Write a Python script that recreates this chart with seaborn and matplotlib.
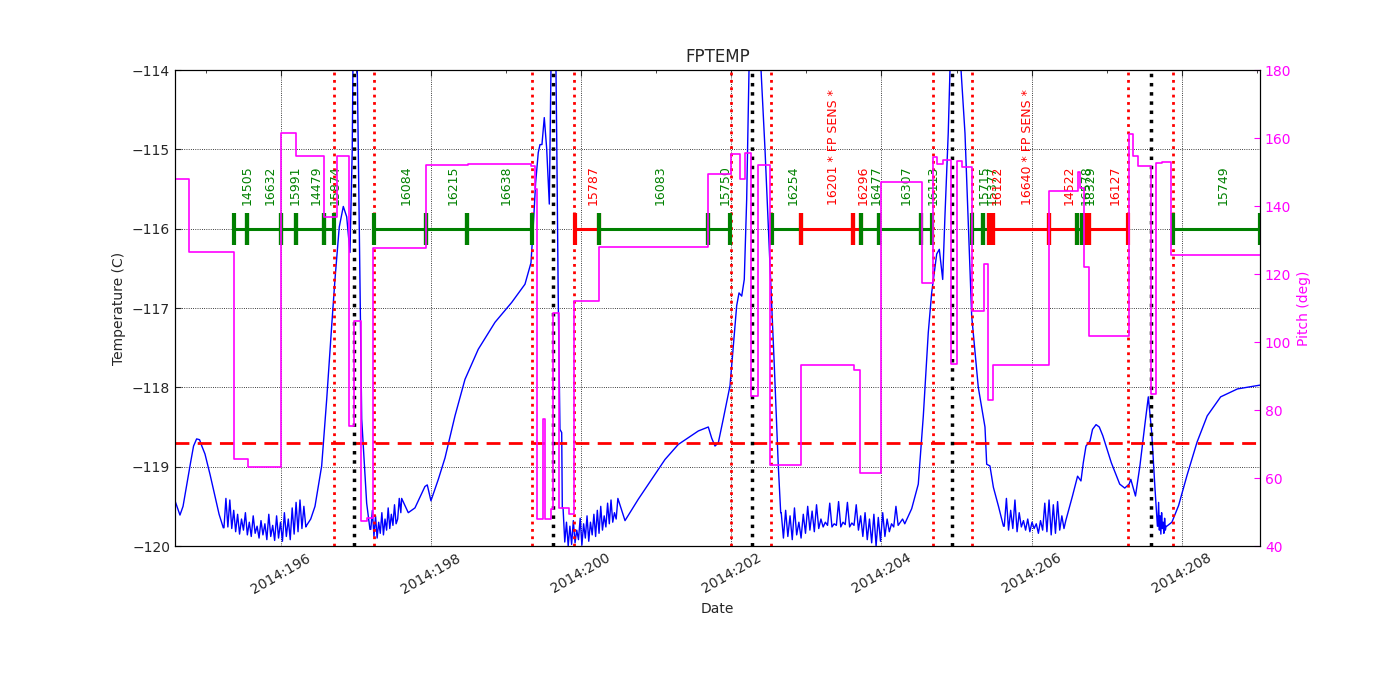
import matplotlib
matplotlib.use("Agg")
import matplotlib.pyplot as plt
import numpy as np
import pandas as pd
import seaborn as sns
from matplotlib.ticker import MultipleLocator, FixedLocator, FixedFormatter

# temperature: smooth stretches (day of year, deg C)
temp_days = [194.593, 194.659, 194.700, 194.740, 194.770, 194.800, 194.840, 194.881,
             194.920, 194.950, 194.992, 195.060, 195.125, 195.180, 195.236,
             196.346, 196.400, 196.457, 196.546, 196.613, 196.679, 196.723, 196.780, 196.834,
             196.879, 196.923, 196.953, 196.989, 197.020, 197.079, 197.145, 197.189,
             197.611, 197.699, 197.788, 197.921, 197.952, 198.001, 198.099, 198.188,
             198.321, 198.454, 198.631, 198.854, 199.076, 199.253, 199.333, 199.364,
             199.395, 199.430, 199.453, 199.479, 199.510, 199.542, 199.577, 199.599,
             199.632, 199.666, 199.675, 199.696, 199.719, 199.742, 199.750,
             200.585, 200.762, 200.940, 201.117, 201.294, 201.561, 201.694, 201.739,
             201.783, 201.827, 201.893, 201.983, 202.027, 202.072, 202.103, 202.139,
             202.173, 202.205, 202.236, 202.316, 202.396, 202.449, 202.515, 202.573,
             202.626, 202.658,
             204.402, 204.490, 204.557, 204.623, 204.668, 204.735, 204.770, 204.815,
             204.845, 204.889, 204.912, 204.985, 205.059, 205.112, 205.201, 205.289,
             205.378, 205.401, 205.444, 205.490, 205.558, 205.624,
             206.454, 206.543, 206.611, 206.656, 206.687, 206.723, 206.776, 206.810,
             206.857, 206.900, 206.947, 207.060, 207.172, 207.239, 207.297, 207.320,
             207.382, 207.441, 207.507, 207.553, 207.598, 207.642, 207.674,
             207.799, 207.867, 207.956, 208.068, 208.202, 208.337, 208.516, 208.740,
             209.053]
temp_vals = [-119.43, -119.61, -119.50, -119.28, -119.12, -118.95, -118.74, -118.65,
             -118.66, -118.74, -118.84, -119.10, -119.37, -119.60, -119.77,
             -119.74, -119.66, -119.50, -118.99, -118.15, -117.23, -116.64, -115.98, -115.72,
             -115.85, -116.30, -115.00, -111.00, -114.00, -118.40, -119.46, -119.79,
             -119.40, -119.58, -119.52, -119.25, -119.23, -119.43, -119.16, -118.89,
             -118.36, -117.90, -117.52, -117.18, -116.93, -116.70, -116.43, -115.96,
             -115.42, -115.04, -114.94, -114.94, -114.60, -114.99, -115.69, -114.00,
             -111.00, -114.00, -114.80, -116.89, -118.53, -118.57, -119.52,
             -119.68, -119.41, -119.16, -118.91, -118.72, -118.55, -118.50, -118.64,
             -118.74, -118.70, -118.40, -117.98, -117.48, -116.97, -116.81, -116.85,
             -116.64, -115.63, -114.00, -110.50, -114.00, -115.00, -116.47, -117.73,
             -118.99, -119.58,
             -119.53, -119.22, -118.36, -117.31, -116.81, -116.32, -116.26, -116.64,
             -115.84, -114.79, -114.00, -111.00, -114.00, -114.80, -117.10, -118.00,
             -118.50, -118.97, -118.99, -119.26, -119.50, -119.75,
             -119.68, -119.37, -119.12, -119.18, -118.95, -118.74, -118.68, -118.53,
             -118.47, -118.50, -118.61, -118.95, -119.22, -119.27, -119.22, -119.16,
             -119.37, -118.99, -118.47, -118.12, -118.57, -119.28, -119.75,
             -119.75, -119.70, -119.49, -119.11, -118.69, -118.36, -118.12, -118.02,
             -117.97]

# temperature: noisy stretches (span in days)
noise_a_span = (195.245, 196.335)
noise_a = [-119.77, -119.40, -119.76, -119.42, -119.78, -119.55, -119.82, -119.60, -119.85,
           -119.66, -119.80, -119.58, -119.86, -119.70, -119.88, -119.62, -119.84, -119.75,
           -119.90, -119.68, -119.86, -119.72, -119.92, -119.60, -119.88, -119.74, -119.93,
           -119.62, -119.90, -119.70, -119.94, -119.58, -119.88, -119.66, -119.92, -119.52,
           -119.85, -119.45, -119.82, -119.42, -119.78, -119.50, -119.76]
noise_b_span = (197.20, 197.60)
noise_b = [-119.79, -119.55, -119.88, -119.62, -119.90, -119.70, -119.84, -119.58, -119.86,
           -119.66, -119.80, -119.52, -119.78, -119.60, -119.74, -119.48, -119.72, -119.66,
           -119.40, -119.58]
noise_c_span = (199.76, 200.49)
noise_c = [-119.52, -119.95, -119.70, -120.00, -119.75, -119.98, -119.68, -119.96, -119.80,
           -119.92, -119.65, -119.99, -119.72, -119.90, -119.62, -119.94, -119.70, -119.86,
           -119.60, -119.88, -119.55, -119.84, -119.50, -119.80, -119.62, -119.76, -119.46,
           -119.72, -119.42, -119.70, -119.58, -119.66, -119.40]
noise_d_span = (202.665, 204.31)
noise_d = [-119.58, -119.90, -119.55, -119.88, -119.62, -119.92, -119.52, -119.86, -119.70,
           -119.90, -119.60, -119.84, -119.50, -119.80, -119.56, -119.82, -119.48, -119.78,
           -119.66, -119.76, -119.70, -119.74, -119.46, -119.76, -119.72, -119.74, -119.44,
           -119.76, -119.70, -119.73, -119.45, -119.76, -119.71, -119.74, -119.48, -119.80,
           -119.62, -119.88, -119.58, -119.92, -119.66, -119.96, -119.60, -120.00, -119.64,
           -119.94, -119.58, -119.88, -119.66, -119.82, -119.72, -119.76, -119.50, -119.74,
           -119.70, -119.66, -119.72]
noise_e_span = (205.635, 206.43)
noise_e = [-119.75, -119.40, -119.80, -119.55, -119.78, -119.42, -119.82, -119.58, -119.76,
           -119.68, -119.80, -119.66, -119.82, -119.70, -119.78, -119.72, -119.84, -119.68,
           -119.80, -119.46, -119.82, -119.42, -119.86, -119.48, -119.84, -119.44, -119.80,
           -119.62, -119.78]
noise_f_span = (207.68, 207.79)
noise_f = [-119.75, -119.45, -119.80, -119.62, -119.85, -119.58, -119.78, -119.70, -119.84,
           -119.65, -119.80, -119.75]

# pitch (deg), step changes
pitch_days = [194.59, 194.78, 195.38, 195.56, 196.00, 196.20, 196.58, 196.75, 196.91, 196.98,
              197.07, 197.15, 197.23, 197.93, 198.49, 199.33, 199.38, 199.41, 199.49, 199.52,
              199.60, 199.63, 199.70, 199.84, 199.91, 200.24, 201.69, 202.00, 202.12, 202.18,
              202.26, 202.35, 202.52, 202.93, 203.64, 203.72, 203.99, 204.54, 204.68, 204.74,
              204.82, 204.93, 205.00, 205.07, 205.20, 205.36, 205.42, 205.48, 206.23, 206.61,
              206.64, 206.70, 206.76, 207.29, 207.35, 207.41, 207.59, 207.66, 207.73, 207.86,
              209.04]
pitch_vals = [148.0, 126.6, 65.5, 63.3, 161.6, 154.7, 136.8, 154.7, 75.3, 106.2,
              47.4, 48.3, 127.7, 152.1, 152.5, 151.8, 145.0, 47.9, 77.3, 47.9,
              50.9, 108.6, 51.3, 49.3, 112.1, 127.9, 149.5, 155.2, 148.0, 155.5,
              84.1, 152.0, 63.7, 93.2, 91.8, 61.4, 147.2, 117.4, 154.5, 152.5,
              153.5, 93.6, 153.2, 151.6, 109.0, 123.0, 82.9, 93.2, 144.4, 150.0,
              145.4, 122.0, 101.8, 161.1, 154.7, 151.8, 84.6, 152.6, 153.0, 125.5,
              125.5]

# observations: start, stop, obsid label, colour
obs_start = [195.382, 195.557, 196.000, 196.204, 196.577, 197.242, 197.931, 198.485,
             199.919, 200.242, 201.686, 202.546, 202.924, 203.620, 203.727, 203.971,
             204.526, 205.205, 205.351, 205.427, 205.485, 206.230, 206.599, 206.666,
             206.723, 206.763, 207.878]
obs_stop = [195.557, 196.000, 196.204, 196.577, 196.714, 197.931, 198.485, 199.342,
            200.242, 201.686, 201.983, 202.924, 203.620, 203.727, 203.971, 204.526,
            204.668, 205.351, 205.427, 205.485, 206.230, 206.599, 206.666, 206.723,
            206.763, 207.286, 209.040]
obs_label = ["14505", "16632", "15991", "14479", "15874", "16084", "16215", "16638",
             "15787", "16083", "15750", "16254", "16201 * FP SENS *", "16296", "16477",
             "16307", "16113", "15715", "15377", "16122", "16640 * FP SENS *", "14522",
             "16578", "18329", "", "16127", "15749"]
obs_color = ["green", "green", "green", "green", "green", "green", "green", "green",
             "red", "green", "green", "green", "red", "red", "green",
             "green", "green", "green", "green", "red", "red", "red",
             "green", "green", "red", "red", "green"]

limit_temp = -118.7
red_lines = [196.714, 197.242, 199.342, 199.909, 201.996, 202.525, 204.680, 205.205,
             207.286, 207.875]
black_lines = [196.976, 199.626, 202.271, 204.943, 207.585]
tick_days = [196, 198, 200, 202, 204, 206, 208]
tick_labels = ["2014:196", "2014:198", "2014:200", "2014:202", "2014:204", "2014:206", "2014:208"]

# build the temperature table
pieces = [pd.DataFrame({"day": temp_days, "temp": temp_vals})]
for span, vals in [(noise_a_span, noise_a), (noise_b_span, noise_b), (noise_c_span, noise_c),
                   (noise_d_span, noise_d), (noise_e_span, noise_e), (noise_f_span, noise_f)]:
    pieces.append(pd.DataFrame({"day": np.linspace(span[0], span[1], len(vals)), "temp": vals}))
temp_df = pd.concat(pieces).sort_values("day").reset_index(drop=True)
pitch_df = pd.DataFrame({"day": pitch_days, "pitch": pitch_vals})

sns.set_style("white", {"xtick.direction": "in", "ytick.direction": "in",
                        "axes.edgecolor": "black", "axes.linewidth": 1.0})
plt.rcParams["font.family"] = ["DejaVu Sans"]
plt.rcParams["xtick.top"] = True
plt.rcParams["xtick.major.size"] = 4
plt.rcParams["xtick.minor.size"] = 2
plt.rcParams["ytick.major.size"] = 4

fig, ax = plt.subplots(figsize=(14, 7), dpi=100)
fig.subplots_adjust(left=0.125, right=0.9, bottom=0.22, top=0.9)

sns.lineplot(data=temp_df, x="day", y="temp", ax=ax, color="blue", lw=1,
             estimator=None, sort=False)
ax.axhline(limit_temp, color="red", lw=2, dashes=(5, 3))
for d in red_lines:
    ax.axvline(d, color="red", ls=":", lw=2)
for d in black_lines:
    ax.axvline(d, color="black", ls=":", lw=2.5)

for s, e, lab, c in zip(obs_start, obs_stop, obs_label, obs_color):
    ax.plot([s, e], [-116, -116], color=c, lw=2.2, solid_capstyle="butt")
    ax.vlines([s, e], -116.2, -115.8, color=c, lw=3)
    if lab:
        ax.text((s + e) / 2, -115.7, lab, rotation=90, color=c, fontsize=9,
                ha="left", va="bottom")

ax.set_xlim(194.593, 209.04)
ax.set_ylim(-120, -114)
ax.xaxis.set_major_locator(FixedLocator(tick_days))
ax.xaxis.set_major_formatter(FixedFormatter(tick_labels))
ax.xaxis.set_minor_locator(FixedLocator([195, 197, 199, 201, 203, 205, 207, 209]))
ax.yaxis.set_major_locator(MultipleLocator(1))
ax.grid(True, which="major", color="black", ls=":", lw=0.6)
plt.setp(ax.get_xticklabels(), rotation=30, ha="center", fontsize=10)
plt.setp(ax.get_yticklabels(), fontsize=10)
ax.set_xlabel("Date", fontsize=10)
ax.set_ylabel("Temperature (C)", fontsize=10)
ax.set_title("FPTEMP", fontsize=12)

ax2 = ax.twinx()
sns.lineplot(data=pitch_df, x="day", y="pitch", ax=ax2, color="magenta", lw=1.2,
             estimator=None, sort=False, drawstyle="steps-post")
ax2.set_ylim(40, 180)
ax2.yaxis.set_major_locator(MultipleLocator(20))
ax2.tick_params(axis="y", colors="magenta", direction="in", labelsize=10)
ax2.spines["right"].set_color("black")
ax2.set_ylabel("Pitch (deg)", color="magenta", fontsize=10)
ax2.set_xlim(194.593, 209.04)
ax2.grid(False)

fig.savefig("out.png", dpi=100)
